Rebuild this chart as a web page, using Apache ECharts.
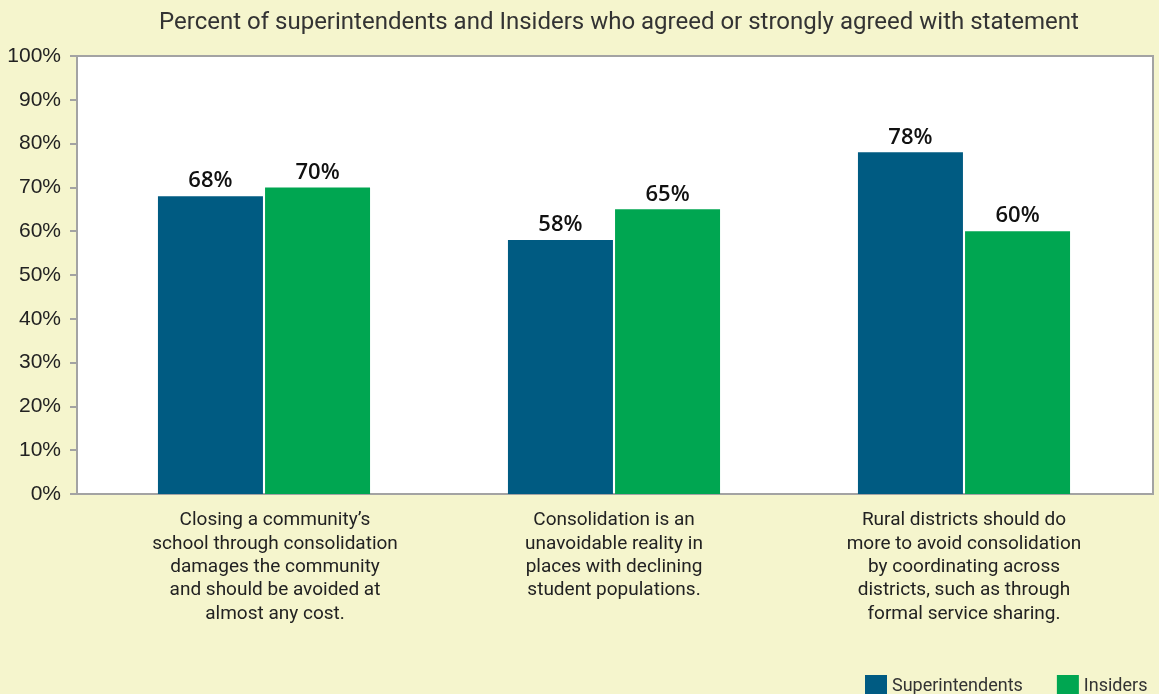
<!DOCTYPE html>
<html>
<head>
<meta charset="utf-8">
<script src="https://cdn.jsdelivr.net/npm/echarts@6/dist/echarts.min.js"></script>
<style>
html,body{margin:0;padding:0;background:#f5f5cd;}
#chart{width:1159px;height:694px;}
</style>
</head>
<body>
<div id="chart"></div>
<script>
const titleText = 'Percent of superintendents and Insiders who agreed or strongly agreed with statement';
const categories = [
  'Closing a community\u2019s\nschool through consolidation\ndamages the community\nand should be avoided at\nalmost any cost.',
  'Consolidation is an\nunavoidable reality in\nplaces with declining\nstudent populations.',
  'Rural districts should do\nmore to avoid consolidation\nby coordinating across\ndistricts, such as through\nformal service sharing.'
];
const superintendents = [68, 58, 78];
const insiders = [70, 65, 60];
const yTicks = [0, 10, 20, 30, 40, 50, 60, 70, 80, 90, 100];

const chart = echarts.init(document.getElementById('chart'));
const labelStyle = {
  show: true, position: 'top', distance: 4,
  formatter: p => p.value + '%',
  fontFamily: 'Open Sans', fontWeight: 600, fontSize: 22, color: '#111'
};
// first category label sits a little right of its bars in the original
const categoryData = categories.map((c, i) => i === 0
  ? {value: c, textStyle: {padding: [0, 0, 0, 22]}}
  : c);
chart.setOption({
  backgroundColor: '#f5f5cd',
  animation: false,
  title: {
    text: titleText, left: 614, textAlign: 'center', top: 6,
    textStyle: {fontFamily: 'Roboto', fontWeight: 'normal', fontSize: 24, color: '#333'}
  },
  legend: {
    left: 860, top: 670, itemWidth: 22, itemHeight: 22, itemGap: 34,
    icon: 'rect',
    textStyle: {fontFamily: 'Roboto', fontSize: 18, color: '#333', padding: [6, 0, 0, 0]},
    data: ['Superintendents', 'Insiders']
  },
  grid: [
    {left: 77, right: 6, top: 56, bottom: 200, show: true, backgroundColor: '#fff',
     borderColor: '#a3a3a3', borderWidth: 2},
    {left: 89, width: 1050, top: 56, bottom: 200}
  ],
  xAxis: [
    {type: 'category', gridIndex: 0, data: ['', '', ''], axisLine: {show: false},
     axisTick: {show: false}, axisLabel: {show: false}},
    {type: 'category', gridIndex: 1, data: categoryData,
     axisLine: {show: false}, axisTick: {show: false},
     axisLabel: {interval: 0, margin: 15, fontFamily: 'Roboto', fontSize: 19, lineHeight: 23.3,
                 color: '#222', align: 'center'}}
  ],
  yAxis: [
    {type: 'value', gridIndex: 0, min: yTicks[0], max: yTicks[yTicks.length - 1], interval: 10,
     axisLine: {show: true, lineStyle: {color: '#a3a3a3', width: 2}},
     axisTick: {show: true, length: 7, lineStyle: {color: '#a3a3a3', width: 2}},
     splitLine: {show: false},
     axisLabel: {margin: 16, formatter: v => v + '%', fontFamily: 'Liberation Sans', fontSize: 21, color: '#222'}},
    {type: 'value', gridIndex: 1, min: 0, max: 100, show: false, splitLine: {show: false}}
  ],
  series: [
    {name: 'Superintendents', type: 'bar', xAxisIndex: 1, yAxisIndex: 1, data: superintendents,
     barWidth: 105, barGap: '2%', itemStyle: {color: '#005b82'}, label: labelStyle},
    {name: 'Insiders', type: 'bar', xAxisIndex: 1, yAxisIndex: 1, data: insiders,
     barWidth: 105, barGap: '2%', itemStyle: {color: '#00a651'}, label: labelStyle}
  ]
});
</script>
</body>
</html>
